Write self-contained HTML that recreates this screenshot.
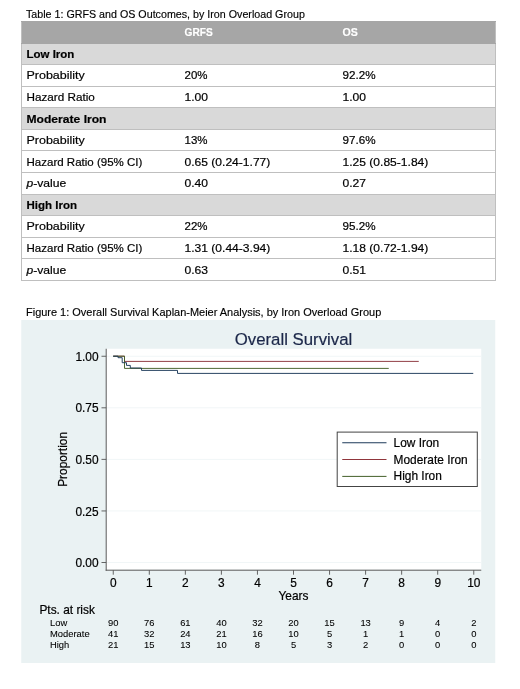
<!DOCTYPE html>
<html lang="en">
<head>
<meta charset="utf-8">
<title>Table 1 and Figure 1: Iron Overload Group Outcomes</title>
<style>
html,body{margin:0;padding:0;background:#fff;}
body{width:520px;height:689px;position:relative;overflow:hidden;font-family:"Liberation Sans",sans-serif;color:#000;}
.cap{position:absolute;left:26.2px;white-space:nowrap;font-size:10.8px;line-height:14px;transform-origin:0 50%;color:#000;-webkit-text-stroke:0.15px #000;}
#cap1{top:6.7px;transform:scaleX(0.9907);}
#cap2{top:304.7px;left:25.6px;transform:scaleX(1.0154);}
table{position:absolute;left:21px;top:21px;width:474px;border-collapse:collapse;table-layout:fixed;font-size:11.8px;}
col.c1{width:158.6px} col.c2{width:158px} col.c3{width:157.4px}
tr{height:21.59px;}
td,th{padding:0 0 0 4.5px;border-top:1px solid #bfbfbf;border-bottom:1px solid #bfbfbf;text-align:left;vertical-align:middle;white-space:nowrap;overflow:visible;font-weight:normal;line-height:20px;}
table{border-left:1px solid #bfbfbf;border-right:1px solid #bfbfbf;}
tr.h th{background:#a6a6a6;color:#fff;font-weight:bold;border-top-color:#a6a6a6;border-bottom-color:#a6a6a6;}
tr.g td{background:#d9d9d9;font-weight:bold;}
.s{display:inline-block;transform-origin:0 50%;white-space:nowrap;position:relative;top:0px;-webkit-text-stroke:0.2px currentColor;}
#chart{position:absolute;left:0;top:0;}
#chart text{font-family:"Liberation Sans",sans-serif;fill:#000;stroke:#000;stroke-width:0.2px;}
#chart .ax{font-size:11.9px;}
#chart .rk{font-size:9.4px;stroke-width:0.08px;}
#chart .title{font-size:16.8px;fill:#1b2749;stroke:#1b2749;}
</style>
</head>
<body>
<svg id="chart" width="520" height="689" viewBox="0 0 520 689">
<rect x="21.25" y="320" width="474" height="343" fill="#eaf2f3"/>
<rect x="106.25" y="348.75" width="375" height="221" fill="#ffffff"/>
<line x1="106.5" x2="481.25" y1="562.5" y2="562.5" stroke="#f1f6f7" stroke-width="1"/>
<line x1="106.5" x2="481.25" y1="510.94" y2="510.94" stroke="#f1f6f7" stroke-width="1"/>
<line x1="106.5" x2="481.25" y1="459.38" y2="459.38" stroke="#f1f6f7" stroke-width="1"/>
<line x1="106.5" x2="481.25" y1="407.81" y2="407.81" stroke="#f1f6f7" stroke-width="1"/>
<line x1="106.5" x2="481.25" y1="356.25" y2="356.25" stroke="#f1f6f7" stroke-width="1"/>
<line x1="106.2" x2="106.2" y1="348.75" y2="570.7" stroke="#5a5a5a" stroke-width="1"/>
<line x1="105.7" x2="481.25" y1="570.2" y2="570.2" stroke="#5a5a5a" stroke-width="1"/>
<line x1="101.5" x2="106.2" y1="562.5" y2="562.5" stroke="#555" stroke-width="0.9"/>
<text x="98.6" y="567.1" text-anchor="end" class="ax">0.00</text>
<line x1="101.5" x2="106.2" y1="510.94" y2="510.94" stroke="#555" stroke-width="0.9"/>
<text x="98.6" y="515.54" text-anchor="end" class="ax">0.25</text>
<line x1="101.5" x2="106.2" y1="459.38" y2="459.38" stroke="#555" stroke-width="0.9"/>
<text x="98.6" y="463.98" text-anchor="end" class="ax">0.50</text>
<line x1="101.5" x2="106.2" y1="407.81" y2="407.81" stroke="#555" stroke-width="0.9"/>
<text x="98.6" y="412.41" text-anchor="end" class="ax">0.75</text>
<line x1="101.5" x2="106.2" y1="356.25" y2="356.25" stroke="#555" stroke-width="0.9"/>
<text x="98.6" y="360.85" text-anchor="end" class="ax">1.00</text>
<line x1="113.25" x2="113.25" y1="570.2" y2="574.7" stroke="#555" stroke-width="0.9"/>
<text x="113.25" y="586.6" text-anchor="middle" class="ax">0</text>
<line x1="149.3" x2="149.3" y1="570.2" y2="574.7" stroke="#555" stroke-width="0.9"/>
<text x="149.3" y="586.6" text-anchor="middle" class="ax">1</text>
<line x1="185.35" x2="185.35" y1="570.2" y2="574.7" stroke="#555" stroke-width="0.9"/>
<text x="185.35" y="586.6" text-anchor="middle" class="ax">2</text>
<line x1="221.4" x2="221.4" y1="570.2" y2="574.7" stroke="#555" stroke-width="0.9"/>
<text x="221.4" y="586.6" text-anchor="middle" class="ax">3</text>
<line x1="257.45" x2="257.45" y1="570.2" y2="574.7" stroke="#555" stroke-width="0.9"/>
<text x="257.45" y="586.6" text-anchor="middle" class="ax">4</text>
<line x1="293.5" x2="293.5" y1="570.2" y2="574.7" stroke="#555" stroke-width="0.9"/>
<text x="293.5" y="586.6" text-anchor="middle" class="ax">5</text>
<line x1="329.55" x2="329.55" y1="570.2" y2="574.7" stroke="#555" stroke-width="0.9"/>
<text x="329.55" y="586.6" text-anchor="middle" class="ax">6</text>
<line x1="365.6" x2="365.6" y1="570.2" y2="574.7" stroke="#555" stroke-width="0.9"/>
<text x="365.6" y="586.6" text-anchor="middle" class="ax">7</text>
<line x1="401.65" x2="401.65" y1="570.2" y2="574.7" stroke="#555" stroke-width="0.9"/>
<text x="401.65" y="586.6" text-anchor="middle" class="ax">8</text>
<line x1="437.7" x2="437.7" y1="570.2" y2="574.7" stroke="#555" stroke-width="0.9"/>
<text x="437.7" y="586.6" text-anchor="middle" class="ax">9</text>
<line x1="473.75" x2="473.75" y1="570.2" y2="574.7" stroke="#555" stroke-width="0.9"/>
<text x="473.75" y="586.6" text-anchor="middle" class="ax">10</text>
<text x="293.5" y="345.3" text-anchor="middle" class="title">Overall Survival</text>
<text x="293.5" y="600.2" text-anchor="middle" class="ax">Years</text>
<text transform="translate(66.5,459.4) rotate(-90)" text-anchor="middle" class="ax">Proportion</text>
<path d="M113.2,356.2 H124.5 V361.4 H418.75" fill="none" stroke="#8c353b" stroke-width="0.95"/>
<path d="M113.2,356.2 H124.5 V368.4 H388.75" fill="none" stroke="#44602a" stroke-width="0.95"/>
<path d="M113.2,356.2 H118 V357.7 H122.2 V362.7 H126.5 V365.4 H130.3 V368 H141.5 V370.4 H177.5 V373.4 H473.25" fill="none" stroke="#1c3a5a" stroke-width="0.95"/>
<rect x="337.2" y="432.1" width="140.1" height="54.4" fill="#ffffff" stroke="#444" stroke-width="1"/>
<line x1="342.25" x2="386.5" y1="442.75" y2="442.75" stroke="#1c3a5a" stroke-width="1"/>
<text x="393.6" y="447.2" class="ax">Low Iron</text>
<line x1="342.25" x2="386.5" y1="459.5" y2="459.5" stroke="#90353b" stroke-width="1"/>
<text x="393.6" y="463.8" class="ax">Moderate Iron</text>
<line x1="342.25" x2="386.5" y1="476.4" y2="476.4" stroke="#44602a" stroke-width="1"/>
<text x="393.6" y="480.2" class="ax">High Iron</text>
<text x="39.4" y="614.3" class="ax">Pts. at risk</text>
<text x="50" y="625.8" class="rk">Low</text>
<text x="113.25" y="625.8" text-anchor="middle" class="rk">90</text>
<text x="149.3" y="625.8" text-anchor="middle" class="rk">76</text>
<text x="185.35" y="625.8" text-anchor="middle" class="rk">61</text>
<text x="221.4" y="625.8" text-anchor="middle" class="rk">40</text>
<text x="257.45" y="625.8" text-anchor="middle" class="rk">32</text>
<text x="293.5" y="625.8" text-anchor="middle" class="rk">20</text>
<text x="329.55" y="625.8" text-anchor="middle" class="rk">15</text>
<text x="365.6" y="625.8" text-anchor="middle" class="rk">13</text>
<text x="401.65" y="625.8" text-anchor="middle" class="rk">9</text>
<text x="437.7" y="625.8" text-anchor="middle" class="rk">4</text>
<text x="473.75" y="625.8" text-anchor="middle" class="rk">2</text>
<text x="50" y="636.9" class="rk">Moderate</text>
<text x="113.25" y="636.9" text-anchor="middle" class="rk">41</text>
<text x="149.3" y="636.9" text-anchor="middle" class="rk">32</text>
<text x="185.35" y="636.9" text-anchor="middle" class="rk">24</text>
<text x="221.4" y="636.9" text-anchor="middle" class="rk">21</text>
<text x="257.45" y="636.9" text-anchor="middle" class="rk">16</text>
<text x="293.5" y="636.9" text-anchor="middle" class="rk">10</text>
<text x="329.55" y="636.9" text-anchor="middle" class="rk">5</text>
<text x="365.6" y="636.9" text-anchor="middle" class="rk">1</text>
<text x="401.65" y="636.9" text-anchor="middle" class="rk">1</text>
<text x="437.7" y="636.9" text-anchor="middle" class="rk">0</text>
<text x="473.75" y="636.9" text-anchor="middle" class="rk">0</text>
<text x="50" y="647.9" class="rk">High</text>
<text x="113.25" y="647.9" text-anchor="middle" class="rk">21</text>
<text x="149.3" y="647.9" text-anchor="middle" class="rk">15</text>
<text x="185.35" y="647.9" text-anchor="middle" class="rk">13</text>
<text x="221.4" y="647.9" text-anchor="middle" class="rk">10</text>
<text x="257.45" y="647.9" text-anchor="middle" class="rk">8</text>
<text x="293.5" y="647.9" text-anchor="middle" class="rk">5</text>
<text x="329.55" y="647.9" text-anchor="middle" class="rk">3</text>
<text x="365.6" y="647.9" text-anchor="middle" class="rk">2</text>
<text x="401.65" y="647.9" text-anchor="middle" class="rk">0</text>
<text x="437.7" y="647.9" text-anchor="middle" class="rk">0</text>
<text x="473.75" y="647.9" text-anchor="middle" class="rk">0</text>
</svg>
<div class="cap" id="cap1">Table 1: GRFS and OS Outcomes, by Iron Overload Group</div>
<table>
<colgroup><col class="c1"><col class="c2"><col class="c3"></colgroup>
<tr class="h"><th></th><th><span class="s" style="transform:translateX(-0.5px) scaleX(0.8598)">GRFS</span></th><th><span class="s" style="transform:translateX(-0.5px) scaleX(0.8964)">OS</span></th></tr>
<tr class="g"><td><span class="s" style="transform:translateX(-0.5px) scaleX(0.9736)">Low Iron</span></td><td></td><td></td></tr>
<tr class="r"><td><span class="s" style="transform:translateX(-0.5px) scaleX(1.0573)">Probability</span></td><td><span class="s" style="transform:translateX(-0.5px) scaleX(0.9729)">20%</span></td><td><span class="s" style="transform:translateX(-0.5px) scaleX(0.9883)">92.2%</span></td></tr>
<tr class="r"><td><span class="s" style="transform:translateX(-0.5px) scaleX(0.9932)">Hazard Ratio</span></td><td><span class="s" style="transform:translateX(-0.5px) scaleX(1.0259)">1.00</span></td><td><span class="s" style="transform:translateX(-0.5px) scaleX(1.0259)">1.00</span></td></tr>
<tr class="g"><td><span class="s" style="transform:translateX(-0.5px) scaleX(1.0258)">Moderate Iron</span></td><td></td><td></td></tr>
<tr class="r"><td><span class="s" style="transform:translateX(-0.5px) scaleX(1.0573)">Probability</span></td><td><span class="s" style="transform:translateX(-0.5px) scaleX(0.9729)">13%</span></td><td><span class="s" style="transform:translateX(-0.5px) scaleX(0.9883)">97.6%</span></td></tr>
<tr class="r"><td><span class="s" style="transform:translateX(-0.5px) scaleX(0.9763)">Hazard Ratio (95% CI)</span></td><td><span class="s" style="transform:translateX(-0.5px) scaleX(1.0223)">0.65 (0.24-1.77)</span></td><td><span class="s" style="transform:translateX(-0.5px) scaleX(1.0223)">1.25 (0.85-1.84)</span></td></tr>
<tr class="r"><td><span class="s" style="transform:translateX(-0.5px) scaleX(1.0279)"><i>p</i>-value</span></td><td><span class="s" style="transform:translateX(-0.5px) scaleX(1.0259)">0.40</span></td><td><span class="s" style="transform:translateX(-0.5px) scaleX(1.0259)">0.27</span></td></tr>
<tr class="g"><td><span class="s" style="transform:translateX(-0.5px) scaleX(0.9756)">High Iron</span></td><td></td><td></td></tr>
<tr class="r"><td><span class="s" style="transform:translateX(-0.5px) scaleX(1.0573)">Probability</span></td><td><span class="s" style="transform:translateX(-0.5px) scaleX(0.9729)">22%</span></td><td><span class="s" style="transform:translateX(-0.5px) scaleX(0.9883)">95.2%</span></td></tr>
<tr class="r"><td><span class="s" style="transform:translateX(-0.5px) scaleX(0.9763)">Hazard Ratio (95% CI)</span></td><td><span class="s" style="transform:translateX(-0.5px) scaleX(1.0223)">1.31 (0.44-3.94)</span></td><td><span class="s" style="transform:translateX(-0.5px) scaleX(1.0223)">1.18 (0.72-1.94)</span></td></tr>
<tr class="r"><td><span class="s" style="transform:translateX(-0.5px) scaleX(1.0279)"><i>p</i>-value</span></td><td><span class="s" style="transform:translateX(-0.5px) scaleX(1.0259)">0.63</span></td><td><span class="s" style="transform:translateX(-0.5px) scaleX(1.0259)">0.51</span></td></tr>
</table>
<div class="cap" id="cap2">Figure 1: Overall Survival Kaplan-Meier Analysis, by Iron Overload Group</div>
</body>
</html>
